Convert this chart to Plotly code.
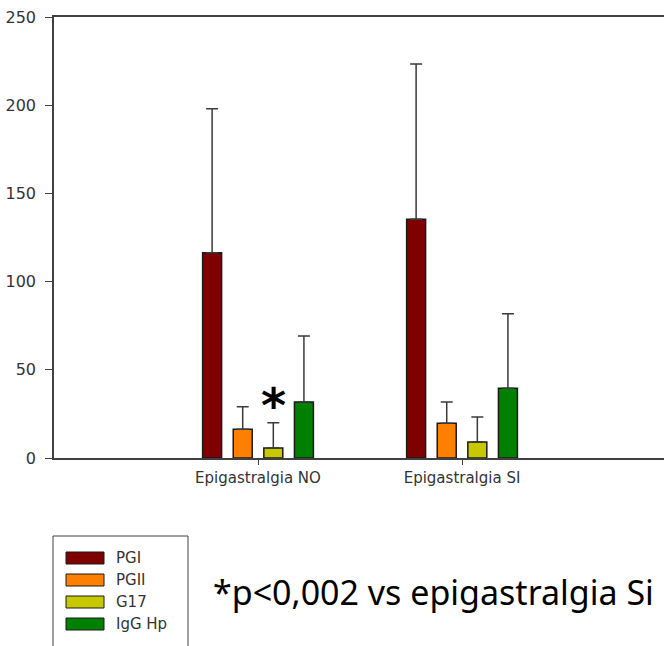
import plotly.graph_objects as go

# Group labels and series
groups = ["Epigastralgia NO", "Epigastralgia SI"]
series = ["PGI", "PGII", "G17", "IgG Hp"]
colors = ["#7F0000", "#FF8000", "#C8C800", "#008000"]

# Means and standard deviations per series (NO, SI)
means = {
    "PGI": [116.4, 135.3],
    "PGII": [16.3, 19.7],
    "G17": [5.7, 9.1],
    "IgG Hp": [31.7, 39.5],
}
sds = {
    "PGI": [81.6, 88.1],
    "PGII": [12.8, 12.0],
    "G17": [14.3, 14.1],
    "IgG Hp": [37.5, 42.3],
}

W, H = 664, 646
ML, MR, MT, MB = 54, 0, 17, 188
PW, PH = W - ML - MR, H - MT - MB


def px(x):
    return (x - ML) / PW


def py(y):
    return (H - MB - y) / PH


fig = go.Figure()
xs = list(range(len(groups)))
for name, col in zip(series, colors):
    fig.add_trace(go.Bar(
        x=xs, y=means[name], name=name,
        marker=dict(color=col, line=dict(color="#1a1a1a", width=1.5)),
        error_y=dict(type="data", array=sds[name], symmetric=False,
                     arrayminus=[0] * len(groups),
                     color="#3a3a3a", thickness=1.5, width=6),
        showlegend=False,
    ))

label_family = "DejaVu Sans, Verdana, sans-serif"

fig.update_layout(
    width=W, height=H,
    margin=dict(l=ML, r=MR, t=MT, b=MB, pad=0),
    paper_bgcolor="white", plot_bgcolor="white",
    barmode="group", bargap=0.4, bargroupgap=0.38,
    xaxis=dict(
        range=[-1, 1.99], tickvals=xs, ticktext=groups,
        showgrid=False, zeroline=False,
        showline=True, linecolor="#404040", linewidth=1.5, mirror=True,
        ticks="outside", ticklen=5, tickcolor="#404040",
        tickfont=dict(family=label_family, size=15, color="#333333"),
    ),
    yaxis=dict(
        range=[0, 250], tickvals=[0, 50, 100, 150, 200, 250],
        showgrid=False, zeroline=False,
        showline=True, linecolor="#404040", linewidth=1.5,
        ticks="outside", ticklen=7, tickcolor="#404040",
        ticklabelstandoff=6,
        tickfont=dict(family=label_family, size=16, color="#333333"),
    ),
)

# Significance mark above G17 in the first group
fig.add_annotation(
    x=0.076, y=means["G17"][0] + sds["G17"][0] + 10, xref="x", yref="y",
    text="<b>*</b>", showarrow=False,
    font=dict(family="DejaVu Sans, sans-serif", size=48, color="black"),
    xanchor="center", yanchor="middle",
)

# Legend box drawn below the chart
fig.add_shape(type="rect", xref="paper", yref="paper",
              x0=px(53), x1=px(188), y0=py(536), y1=py(660),
              line=dict(color="#404040", width=1), fillcolor="rgba(0,0,0,0)")
for i, (name, col) in enumerate(zip(series, colors)):
    top = 552 + i * 22
    fig.add_shape(type="rect", xref="paper", yref="paper",
                  x0=px(66), x1=px(104), y0=py(top), y1=py(top + 12),
                  line=dict(color="#1a1a1a", width=1), fillcolor=col)
    fig.add_annotation(x=px(114), y=py(top + 6), xref="paper", yref="paper",
                       text=name, showarrow=False, xanchor="left", yanchor="middle",
                       font=dict(family=label_family, size=15, color="#333333"))

fig.add_annotation(
    x=px(433), y=py(592), xref="paper", yref="paper",
    text="*p&lt;0,002 vs epigastralgia Si", showarrow=False,
    xanchor="center", yanchor="middle",
    font=dict(family="Comic Sans MS, Noto Sans, sans-serif", size=34, color="black"),
)

fig.write_html("out.html")
